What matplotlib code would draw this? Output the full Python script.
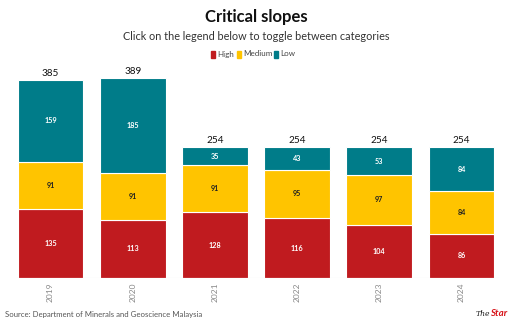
import numpy as np
import matplotlib.pyplot as plt

plt.rcParams['font.family'] = ['Lato', 'DejaVu Sans']

years = ['2019', '2020', '2021', '2022', '2023', '2024']
high = [135, 113, 128, 116, 104, 86]
medium = [91, 91, 91, 95, 97, 84]
low = [159, 185, 35, 43, 53, 84]

c_high = '#C01B1F'
c_med = '#FFC400'
c_low = '#007C89'

fig = plt.figure(figsize=(5.12, 3.26), dpi=100)
ax = fig.add_axes([9.4 / 512, 48 / 326, 493.2 / 512, 218 / 326])

x = np.arange(len(years))
w = 0.8
kw = dict(width=w, edgecolor='white', linewidth=0.8)
b1 = ax.bar(x, high, color=c_high, **kw)
b2 = ax.bar(x, medium, bottom=high, color=c_med, **kw)
bottom2 = np.array(high) + np.array(medium)
b3 = ax.bar(x, low, bottom=bottom2, color=c_low, **kw)

# segment labels
for i in range(len(years)):
    ax.text(x[i], high[i] / 2, str(high[i]), ha='center', va='center',
            color='white', fontsize=5.2, fontweight='bold')
    ax.text(x[i], high[i] + medium[i] / 2, str(medium[i]), ha='center', va='center',
            color='#222222', fontsize=5.2, fontweight='bold')
    ax.text(x[i], bottom2[i] + low[i] / 2, str(low[i]), ha='center', va='center',
            color='white', fontsize=5.2, fontweight='bold')
    total = high[i] + medium[i] + low[i]
    ax.text(x[i], total + 4, str(total), ha='center', va='bottom',
            color='#111111', fontsize=7.2)

ax.set_xlim(-0.5, len(years) - 0.5)
ax.set_ylim(0, 424)
ax.axhline(0, xmin=0.015, xmax=0.99, color='#dddddd', linewidth=0.8)
for s in ax.spines.values():
    s.set_visible(False)
ax.set_yticks([])
ax.set_xticks(x)
ax.set_xticklabels(years, rotation=90, fontsize=6, color='#888888')
ax.tick_params(axis='x', length=0, pad=3)

fig.text(0.5, 1 - 17 / 326, 'Critical slopes', ha='center', va='center',
         fontsize=12, fontweight='bold', color='#111111')
fig.text(0.5, 1 - 36 / 326, 'Click on the legend below to toggle between categories',
         ha='center', va='center', fontsize=7.8, color='#333333')

# legend row
legend_items = [('High', c_high, 211), ('Medium', c_med, 237), ('Low', c_low, 274)]
for name, col, px in legend_items:
    fig.patches.append(plt.Rectangle((px / 512, 1 - 58 / 326), 4 / 512, 7 / 326,
                                     transform=fig.transFigure, color=col))
    fig.text((px + 6) / 512, 1 - 54 / 326, name, ha='left', va='center',
             fontsize=5.8, color='#444444')

fig.text(5 / 512, 1 - 315 / 326, 'Source: Department of Minerals and Geoscience Malaysia',
         ha='left', va='center', fontsize=5.6, color='#555555')
fig.text(490 / 512, 1 - 314 / 326, 'The', ha='right', va='center',
         fontsize=5.5, style='italic', family='DejaVu Serif', color='#222222')
fig.text(490 / 512, 1 - 314 / 326, 'Star', ha='left', va='center',
         fontsize=7, style='italic', fontweight='bold', color='#D7141A')

fig.savefig('out.png', dpi=100)
